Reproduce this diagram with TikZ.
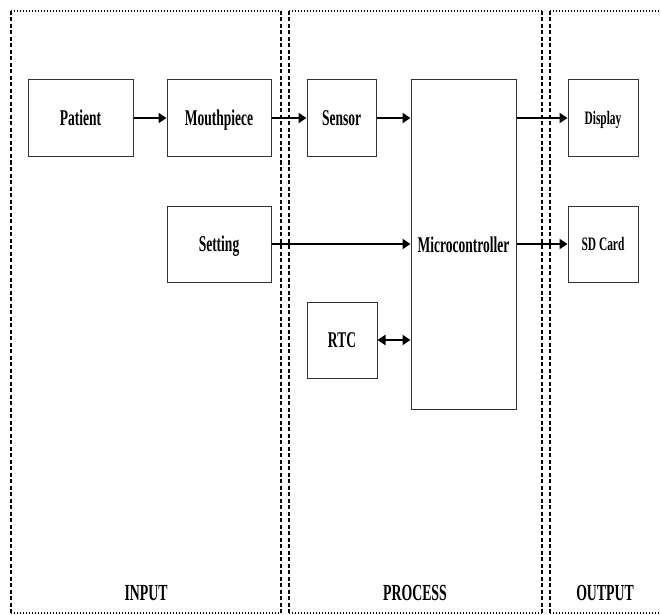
\documentclass[tikz,border=0pt]{standalone}
\usepackage{fontspec}
\newfontfamily\labfont[FakeStretch=0.6,UprightFont=* Bold]{Liberation Serif}
\usetikzlibrary{arrows.meta}
\begin{document}
\begin{tikzpicture}[x=1pt,y=-1pt,
  blk/.style={draw=black!80,line width=1pt,fill=white,inner sep=0pt,text height=15pt,text depth=0pt,font=\labfont\fontsize{22.5}{24}\selectfont},
  sblk/.style={blk,text height=13pt,font=\labfont\fontsize{19}{21}\selectfont},
  flow/.style={line width=2.2pt,-{Triangle[length=8pt,width=10pt]}},
  bflow/.style={line width=2.2pt,{Triangle[length=8pt,width=10pt]}-{Triangle[length=8pt,width=10pt]}},
  hdot/.style={line width=1.4pt,dash pattern=on 1.4pt off 1.6pt},
  vdash/.style={line width=1.3pt,dash pattern=on 4pt off 2.5pt},
  ttl/.style={font=\labfont\fontsize{23}{25}\selectfont,text height=15pt,text depth=0pt,inner sep=0pt}]
\useasboundingbox (0,0) rectangle (661,615);
% frames
\foreach \l/\r in {11/281,289/542,550/662}{
  \draw[hdot] (\l,11) -- (\r,11);
  \draw[hdot] (\l,613) -- (\r,613);
  \draw[vdash] (\l,11) -- (\l,613);
}
\draw[vdash] (281,11) -- (281,613);
\draw[vdash] (542,11) -- (542,613);
% blocks
\node[blk,minimum width=105pt,minimum height=76pt] (patient) at (80.5,118) {Patient};
\node[blk,minimum width=104pt,minimum height=76pt] (mouth) at (219,118) {Mouthpiece};
\node[blk,minimum width=69pt,minimum height=76pt] (sensor) at (341.5,118) {Sensor};
\node[blk,minimum width=105pt,minimum height=329pt] (micro) at (463.5,244.5) {Microcontroller};
\node[sblk,minimum width=70pt,minimum height=76pt] (display) at (603,118) {Display};
\node[blk,minimum width=104pt,minimum height=76pt] (setting) at (219,244) {Setting};
\node[sblk,minimum width=70pt,minimum height=76pt] (sd) at (603,244) {SD Card};
\node[blk,minimum width=70pt,minimum height=76pt] (rtc) at (342,340) {RTC};
% connectors
\draw[flow] (patient.east) -- (mouth.west);
\draw[flow] (mouth.east) -- (sensor.west);
\draw[flow] (sensor.east) -- (sensor.east -| micro.west);
\draw[flow] (micro.east |- display.west) -- (display.west);
\draw[flow] (setting.east) -- (setting.east -| micro.west);
\draw[flow] (micro.east |- sd.west) -- (sd.west);
\draw[bflow] (rtc.east) -- (rtc.east -| micro.west);
% titles
\node[ttl] (tin) at (146,593) {INPUT};
\node[ttl] (tpr) at (415,593) {PROCESS};
\node[ttl] (tout) at (605,593) {OUTPUT};
\end{tikzpicture}
\end{document}
